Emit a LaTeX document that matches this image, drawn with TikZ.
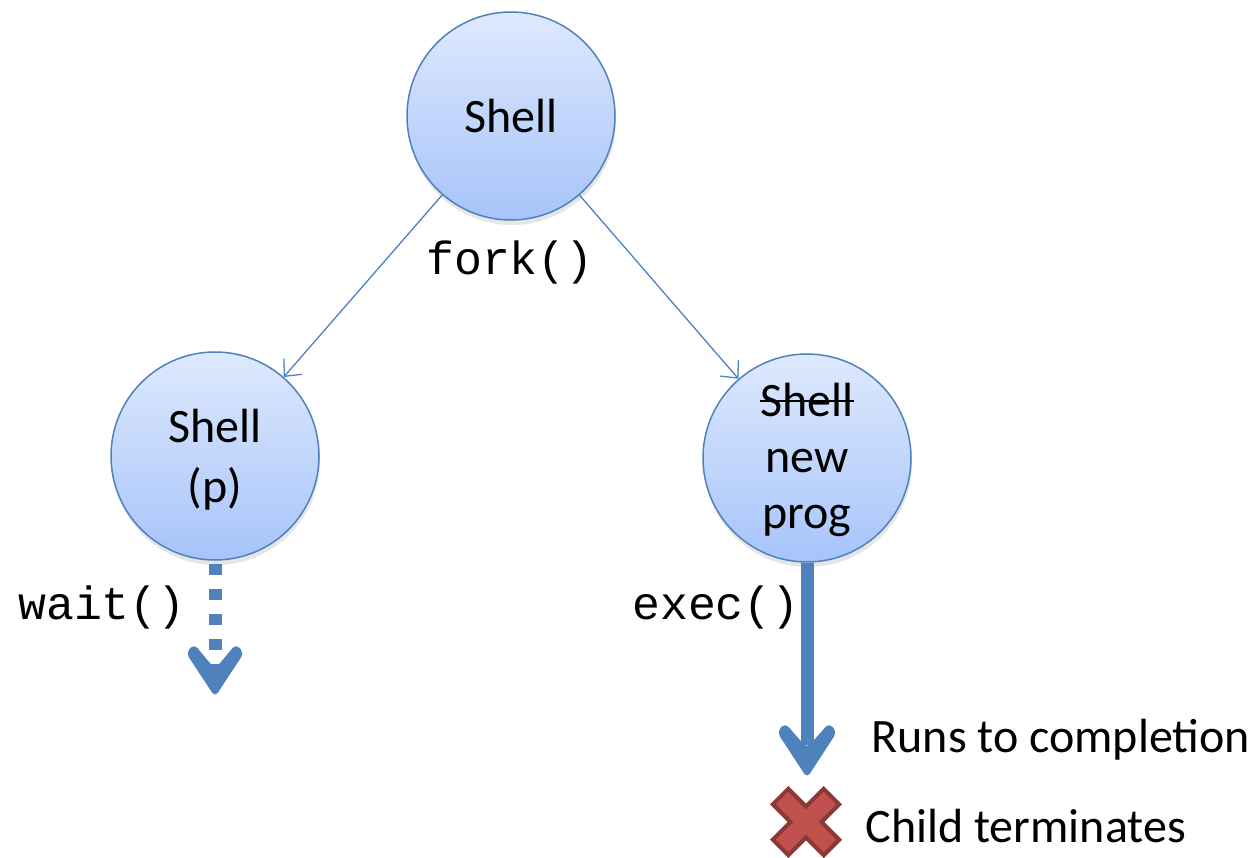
\documentclass[tikz,border=0pt]{standalone}
\usepackage{fontspec}
\setmainfont{Carlito}
\newfontfamily\monof{Liberation Mono}
\usetikzlibrary{arrows.meta,shadows}
\newsavebox\strkbox
\newcommand\mystrike[1]{\leavevmode\sbox\strkbox{#1}\rlap{\usebox\strkbox}\rule[0.3em]{\wd\strkbox}{2.5pt}}
\definecolor{accent}{RGB}{79,129,189}
\definecolor{topc}{RGB}{222,233,253}
\definecolor{botc}{RGB}{166,196,250}
\definecolor{xred}{RGB}{192,80,77}
\definecolor{xdark}{RGB}{140,56,54}
\tikzset{
  proc/.style={circle, minimum size=208pt, inner sep=0pt, draw=accent, line width=1.5pt,
    top color=topc, bottom color=botc,
    drop shadow={opacity=0.2, shadow xshift=1pt, shadow yshift=-5pt}},
  intext/.style={align=center, inner sep=0pt},
  forkarrow/.style={draw=accent, line width=1.3pt, -{Straight Barb[length=13pt,width=24pt,line width=1.3pt]}},
  thickline/.style={draw=accent, line width=13pt},
  headfill/.style={fill=accent, rounded corners=5pt},
  mono/.style={font=\monof\fontsize{46.5}{52}\selectfont},
  lbl/.style={font=\fontsize{48}{56}\selectfont, anchor=west}
}
\begin{document}
\begin{tikzpicture}[x=1pt,y=-1pt]
\useasboundingbox (0,0) rectangle (1259,858);
\node[proc] (top) at (511,116) {};
\node[proc] (left) at (215,456) {};
\node[proc] (right) at (807,458) {};
\node[intext, font=\fontsize{48}{59}\selectfont] (toptxt) at (top.center) {Shell};
\node[intext, font=\fontsize{48}{60}\selectfont] (lefttxt) at ([yshift=-4pt]left.center) {Shell\\(p)};
\node[intext, font=\fontsize{48}{56}\selectfont] (righttxt) at ([yshift=-2pt]right.center) {\mystrike{Shell}\\new\\prog};
\draw[forkarrow] (top) -- (left);
\draw[forkarrow] (top) -- (right);
\node[mono] (fork) at (510,262) {fork()};
\coordinate (wend) at (215,697);
\coordinate (eend) at (807,778);
\coordinate (wstop) at (215,672);
\coordinate (estop) at (807,745);
\draw[thickline, dash pattern=on 11pt off 14pt, dash phase=-3pt] (left.south) -- (wstop);
\draw[thickline] (right.south) -- (estop);
\fill[headfill, shift={(wend)}] (0,0) -- (-29,-44) -- (-21,-53) -- (0,-28) -- (21,-53) -- (29,-44) -- cycle;
\fill[headfill, shift={(eend)}] (0,0) -- (-30,-46) -- (-22,-55) -- (0,-30) -- (22,-55) -- (30,-46) -- cycle;
\node[mono] (wait) at (102,607) {wait()};
\node[mono] (exec) at (716,607) {exec()};
\node[lbl] (runs) at (868,740) {Runs to completion};
\node[lbl] (child) at (862,826) {Child terminates};
\begin{scope}[shift={(806,822)}, rotate=45]
  \filldraw[fill=xred, draw=xdark, line width=4pt, line join=miter]
    (11,36) -- (11,11) -- (36,11) -- (36,-11) -- (11,-11) -- (11,-36) -- (-11,-36) -- (-11,-11)
    -- (-36,-11) -- (-36,11) -- (-11,11) -- (-11,36) -- cycle;
\end{scope}
\node[inner sep=0pt] (xmark) at (806,822) {};
\end{tikzpicture}
\end{document}
